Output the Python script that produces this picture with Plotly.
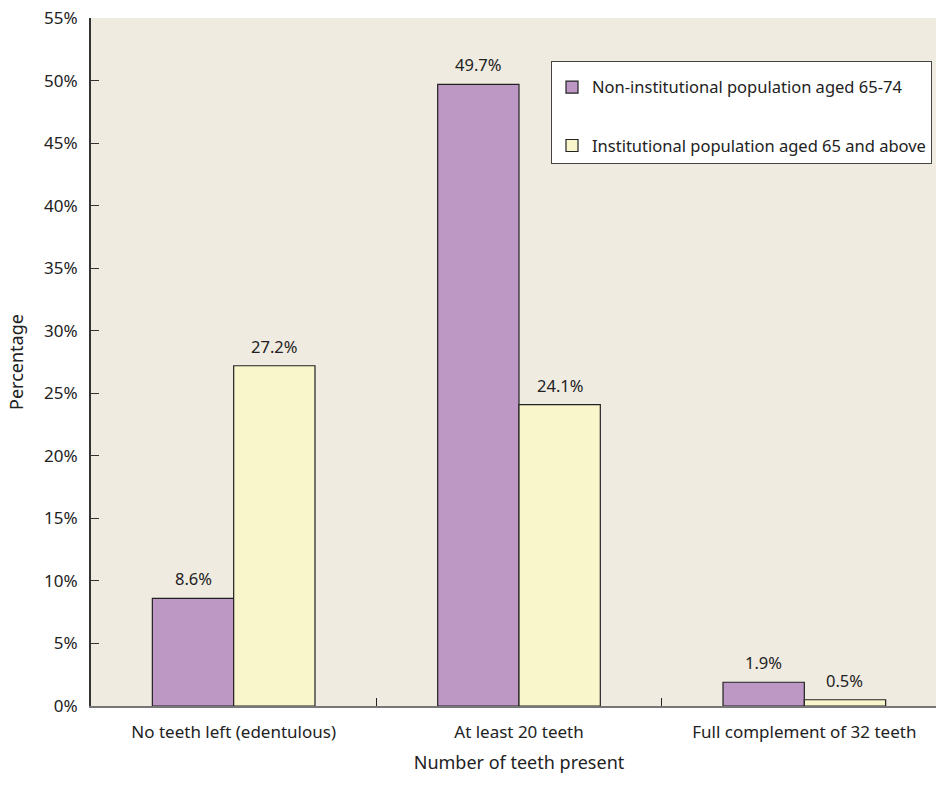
import plotly.graph_objects as go

categories = ["No teeth left (edentulous)", "At least 20 teeth", "Full complement of 32 teeth"]
non_inst = [8.6, 49.7, 1.9]
inst = [27.2, 24.1, 0.5]
series_names = ["Non-institutional population aged 65-74", "Institutional population aged 65 and above"]
colors = ["#BE98C5", "#F8F6CA"]
y_ticks = list(range(0, 56, 5))

FONT = "Noto Sans"
W, H = 947, 800
ML, MR, MT, MB = 91, 0, 18, 94
bargap = 0.43

fig = go.Figure()
for i, (name, vals) in enumerate(zip(series_names, [non_inst, inst])):
    fig.add_trace(go.Bar(
        x=categories, y=vals, name=name, legendgroup=f"g{i}",
        marker=dict(color=colors[i], line=dict(color="#222222", width=1.2)),
    ))

# value labels
plot_w = W - ML - MR
cat_w = plot_w / len(categories)
bar_w = cat_w * (1 - bargap) / 2
for i, vals in enumerate([non_inst, inst]):
    shift = (-0.5 + i) * bar_w
    for c, v in zip(categories, vals):
        fig.add_annotation(x=c, y=v, text=f"{v}%", showarrow=False, xref="x", yref="y",
                           xshift=shift, yanchor="bottom", yshift=6,
                           font=dict(family=FONT, size=16.5, color="#222222"))

fig.update_layout(
    width=W, height=H,
    margin=dict(l=ML, r=MR, t=MT, b=MB, pad=0),
    paper_bgcolor="white", plot_bgcolor="#EFEBE1",
    barmode="group", bargap=bargap, bargroupgap=0,
    font=dict(family=FONT, size=16, color="#222222"),
    showlegend=True,
    legend=dict(x=(551 - ML) / plot_w, y=0.9375, xanchor="left", yanchor="top",
                bgcolor="white", bordercolor="#444444", borderwidth=1,
                font=dict(family=FONT, size=16.5, color="#222222"),
                tracegroupgap=34, traceorder="grouped",
                title=dict(text=" ", font=dict(size=6))),
    xaxis=dict(
        title=dict(text="Number of teeth present", standoff=14, font=dict(size=18)),
        showline=True, linecolor="#777777", linewidth=2,
        ticks="inside", tickson="boundaries", ticklen=8, tickcolor="#222222",
        showgrid=False, tickfont=dict(size=17), ticklabelstandoff=10,
    ),
    yaxis=dict(
        title=dict(text="Percentage", standoff=16, font=dict(size=18)),
        range=[0, 55], tickvals=y_ticks, ticktext=[f"{t}%" for t in y_ticks],
        showline=True, linecolor="#333333", linewidth=2,
        ticks="inside", ticklen=8, tickcolor="#333333",
        showgrid=False, zeroline=False, tickfont=dict(size=17), ticklabelstandoff=8,
    ),
)

fig.write_html("out.html", config={"displayModeBar": False},
               post_script="document.body.style.margin='0';document.body.style.overflow='hidden';")
